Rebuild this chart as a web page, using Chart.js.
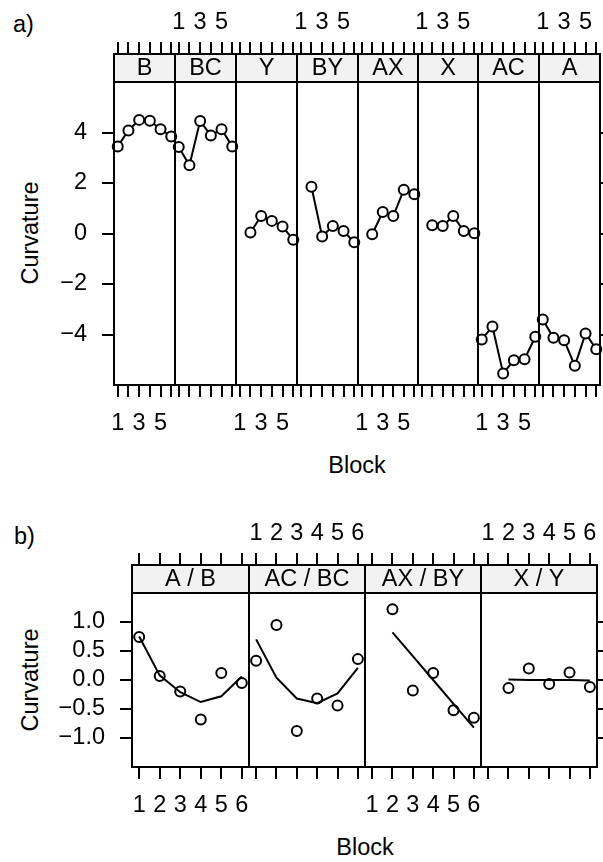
<!DOCTYPE html>
<html>
<head>
<meta charset="utf-8">
<script src="https://cdn.jsdelivr.net/npm/chart.js@4.4.1/dist/chart.umd.min.js"></script>
<style>
  html, body { margin: 0; padding: 0; background: #fff; }
  body { width: 603px; height: 862px; position: relative; overflow: hidden; font-family: 'Liberation Sans', Arial, sans-serif; }
  canvas { position: absolute; }
  .lbl { position: absolute; font-size: 23.5px; line-height: 1; color: #000; white-space: nowrap; }
  .ctr { transform: translate(-50%, -50%); }
  .rot { transform: translate(-50%, -50%) rotate(-90deg); }
</style>
</head>
<body>
<div class="lbl" style="left:13px; top:25px; transform: translateY(-50%)">a)</div>
<div class="lbl" style="left:14px; top:537px; transform: translateY(-50%)">b)</div>
<div class="lbl rot" style="left:31px; top:233px">Curvature</div>
<div class="lbl rot" style="left:31px; top:680px">Curvature</div>
<div class="lbl ctr" style="left:357px; top:466px">Block</div>
<div class="lbl ctr" style="left:365px; top:848px">Block</div>
<script>
// tick labels
const blocks = [1, 2, 3, 4, 5, 6];
const oddBlocks = [1, 3, 5];
const yTicksA = [-4, -2, 0, 2, 4];
const yTicksB = [-1, -0.5, 0, 0.5, 1];

// a) curvature by block for each treatment
const panelsA = ['B', 'BC', 'Y', 'BY', 'AX', 'X', 'AC', 'A'];
const curvB  = [3.45, 4.08, 4.50, 4.47, 4.13, 3.84];
const curvBC = [3.43, 2.70, 4.46, 3.88, 4.13, 3.45];
const curvY  = [null, 0.04, 0.69, 0.50, 0.28, -0.25];
const curvBY = [null, 1.85, -0.12, 0.30, 0.10, -0.35];
const curvAX = [null, -0.03, 0.85, 0.69, 1.73, 1.55];
const curvX  = [null, 0.33, 0.30, 0.69, 0.10, 0.01];
const curvAC = [-4.20, -3.68, -5.54, -5.02, -4.98, -4.09];
const curvA  = [-3.41, -4.13, -4.23, -5.24, -3.96, -4.58];
const seriesA = [curvB, curvBC, curvY, curvBY, curvAX, curvX, curvAC, curvA];

// b) differences with fitted curves
const panelsB = ['A / B', 'AC / BC', 'AX / BY', 'X / Y'];
const diffAB   = [0.74, 0.07, -0.20, -0.68, 0.12, -0.05];
const fitAB    = [0.75, 0.08, -0.21, -0.38, -0.28, 0.06];
const diffACBC = [0.33, 0.95, -0.88, -0.32, -0.44, 0.36];
const fitACBC  = [0.70, 0.04, -0.32, -0.40, -0.23, 0.21];
const diffAXBY = [null, 1.22, -0.18, 0.12, -0.52, -0.65];
const fitAXBY  = [null, 0.82, 0.41, 0.00, -0.41, -0.82];
const diffXY   = [null, -0.14, 0.20, -0.07, 0.13, -0.12];
const fitXY    = [null, 0.01, 0.00, 0.00, 0.00, -0.01];
const diffsB = [diffAB, diffACBC, diffAXBY, diffXY];
const fitsB = [fitAB, fitACBC, fitAXBY, fitXY];

const FONT = "'Liberation Sans', Arial, sans-serif";
const FSIZE = 23.5;
Chart.defaults.font.family = FONT;
Chart.defaults.font.size = FSIZE;
Chart.defaults.color = '#000';

// panel edges in page pixels
const edgesA = [114, 175, 236, 297, 358, 418, 478, 539, 600];
const edgesB = [132, 249, 365, 481, 597];

const toPoints = vals => blocks.map((b, i) => ({ x: b, y: vals[i] })).filter(p => p.y !== null);
const minusFmt = (v, digits) => (v < 0 ? '\u2212' : '') + Math.abs(v).toFixed(digits);

// grey strip with panel name + panel box
const stripPlugin = {
    id: 'strip',
    afterDraw(chart, args, o) {
        const { ctx, chartArea: a } = chart;
        const w = a.right - a.left;
        ctx.save();
        ctx.fillStyle = '#f2f2f2';
        ctx.fillRect(a.left, a.top - o.height, w, o.height);
        ctx.lineWidth = 2;
        ctx.strokeStyle = '#000';
        ctx.strokeRect(a.left, a.top - o.height, w, o.height);
        ctx.strokeRect(a.left, a.top, w, a.bottom - a.top);
        ctx.fillStyle = '#000';
        ctx.font = FSIZE + 'px ' + FONT;
        ctx.textAlign = 'center';
        ctx.textBaseline = 'middle';
        ctx.fillText(o.label, (a.left + a.right) / 2, a.top - o.height / 2 + 1);
        ctx.restore();
    }
};

function makePanel(p) {
    const cv = document.createElement('canvas');
    const cl = p.left - 110;
    const cr = p.right + 20;
    cv.width = cr - cl;
    cv.height = p.canvasBottom - p.canvasTop;
    cv.style.left = cl + 'px';
    cv.style.top = p.canvasTop + 'px';
    document.body.appendChild(cv);

    const xAxis = (pos, height, tickLength, labels, pad) => ({
        type: 'linear',
        position: pos,
        min: 0.65,
        max: 6.35,
        bounds: 'data',
        afterBuildTicks: s => { s.ticks = blocks.map(v => ({ value: v })); },
        afterFit: s => { s.height = height; },
        grid: { drawOnChartArea: false, tickLength: tickLength, lineWidth: 2, color: '#000' },
        border: { display: true, width: 2, color: '#000' },
        ticks: {
            autoSkip: false, maxRotation: 0, padding: pad,
            callback: v => labels.includes(v) ? String(v) : ''
        }
    });
    const yAxis = (pos, width, show, labels) => ({
        type: 'linear',
        position: pos,
        min: p.yMin,
        max: p.yMax,
        bounds: 'data',
        afterBuildTicks: s => { s.ticks = p.yTicks.map(v => ({ value: v })); },
        afterFit: s => { s.width = width; },
        grid: { display: show, drawOnChartArea: false, tickLength: 12, lineWidth: 2, color: '#000' },
        border: { display: show, width: 2, color: '#000' },
        ticks: { display: show && labels, padding: 15, callback: v => minusFmt(v, p.yDigits) }
    });

    new Chart(cv, {
        type: 'line',
        data: { datasets: p.datasets },
        options: {
            responsive: false,
            animation: false,
            layout: { padding: 0 },
            plugins: {
                legend: { display: false },
                tooltip: { enabled: false },
                strip: { label: p.label, height: 28 }
            },
            scales: {
                x: xAxis('bottom', p.canvasBottom - p.bottom, 12, p.bottomLabels, 12),
                x2: xAxis('top', p.top - p.canvasTop, 40, p.topLabels, 5),
                y: yAxis('left', 110, p.showLeft, true),
                y2: yAxis('right', 20, p.showRight, false)
            }
        },
        plugins: [stripPlugin]
    });
}

const pointStroke = pts => ({ data: pts, showLine: false, pointRadius: 5, pointBorderWidth: 2,
    pointBorderColor: '#000', pointBackgroundColor: 'rgba(0,0,0,0)', clip: false, order: 0 });

// a) panels: line broken at each circle
panelsA.forEach((name, i) => {
    const pts = toPoints(seriesA[i]);
    makePanel({
        label: name,
        left: edgesA[i], right: edgesA[i + 1],
        canvasTop: 0, canvasBottom: 480, top: 82, bottom: 385,
        yMin: -6, yMax: 6, yTicks: yTicksA, yDigits: 0,
        showLeft: i === 0, showRight: i === panelsA.length - 1,
        bottomLabels: i % 2 === 0 ? oddBlocks : [],
        topLabels: i % 2 === 1 ? oddBlocks : [],
        datasets: [
            pointStroke(pts),
            { data: pts, showLine: false, pointRadius: 5, pointBorderWidth: 0,
              pointBackgroundColor: '#fff', clip: false, order: 1 },
            { data: pts, borderColor: '#000', borderWidth: 2, pointRadius: 0, tension: 0, clip: false, order: 2 }
        ]
    });
});

// b) panels: points + fitted curve
panelsB.forEach((name, i) => {
    makePanel({
        label: name,
        left: edgesB[i], right: edgesB[i + 1],
        canvasTop: 480, canvasBottom: 862, top: 593, bottom: 767,
        yMin: -1.5, yMax: 1.5, yTicks: yTicksB, yDigits: 1,
        showLeft: i === 0, showRight: i === panelsB.length - 1,
        bottomLabels: i % 2 === 0 ? blocks : [],
        topLabels: i % 2 === 1 ? blocks : [],
        datasets: [
            Object.assign(pointStroke(toPoints(diffsB[i])), { order: 1 }),
            { data: toPoints(fitsB[i]), borderColor: '#000', borderWidth: 2, pointRadius: 0, tension: 0,
              clip: false, order: 0 }
        ]
    });
});
</script>
</body>
</html>
